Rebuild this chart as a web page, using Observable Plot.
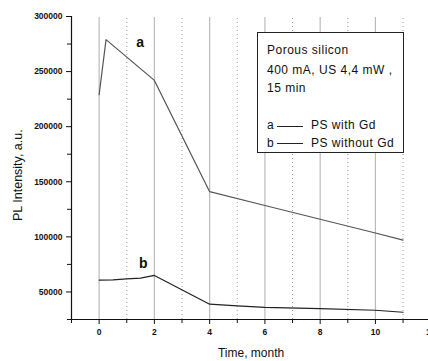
<!DOCTYPE html>
<html>
<head>
<meta charset="utf-8">
<script src="https://cdn.jsdelivr.net/npm/d3@7"></script>
<script src="https://cdn.jsdelivr.net/npm/@observablehq/plot@0.6"></script>
<style>
  body { margin: 0; background: white; }
  #wrap { position: relative; width: 428px; height: 361px; overflow: hidden; font-family: "Liberation Sans", Arial, sans-serif; }
  #legend { position: absolute; left: 257px; top: 32px; width: 145px; height: 119px; border: 1.5px solid #222; background: white; color: #111; font-size: 12px; letter-spacing: 0.5px; }
  #legend div { position: absolute; white-space: nowrap; }
  #legend .sw { position: absolute; height: 0; border-top: 1px solid #222; }
</style>
</head>
<body>
<div id="wrap"></div>
<script>
// Series a: PS with Gd
const monthsA = [0, 0.25, 2, 4, 6, 8, 10, 11];
const intensityA = [229000, 279000, 242000, 141000, 128500, 116000, 103500, 97000];
// Series b: PS without Gd
const monthsB = [0, 0.5, 1, 1.5, 2, 4, 5, 6, 8, 10, 11];
const intensityB = [60800, 61000, 61800, 62500, 65000, 38900, 37300, 36000, 34900, 33400, 31600];

const xMajor = [0, 2, 4, 6, 8, 10, 12];
const xMinor = [-1, 1, 3, 5, 7, 9, 11];
const yMajor = [50000, 100000, 150000, 200000, 250000, 300000];
const yMinor = [25000, 75000, 125000, 175000, 225000, 275000];
const gridSolid = [0, 2, 4, 6, 8, 10, 12];
const gridDotted = [1, 3, 5, 7, 9, 11];

const dataA = monthsA.map((t, i) => ({t, v: intensityA[i]}));
const dataB = monthsB.map((t, i) => ({t, v: intensityB[i]}));

const chart = Plot.plot({
  width: 428,
  height: 361,
  marginLeft: 71,
  marginTop: 16,
  marginBottom: 42,
  marginRight: 0,
  x: {domain: [-1, 12.5], range: [71, 444]},
  y: {domain: [25000, 300000]},
  style: {fontFamily: "'Liberation Sans', Arial, sans-serif", background: "white", overflow: "hidden", color: "#111"},
  marks: [
    Plot.ruleX(gridSolid, {y1: 25000, y2: 299000, stroke: "#bbb", strokeWidth: 1.2}),
    Plot.ruleX(gridDotted, {y1: 25000, y2: 299000, stroke: "#999", strokeDasharray: "1,3"}),
    Plot.ruleX([-1], {y1: 25000, y2: 300000, stroke: "#111", strokeWidth: 1.2}),
    Plot.ruleY([25000], {stroke: "#111", strokeWidth: 1.2}),
    Plot.axisY({ticks: yMajor, tickSize: 5, tickPadding: 4, fontSize: 8.5, fontWeight: "bold", tickFormat: d => String(d), label: null}),
    Plot.axisY({ticks: yMinor, tickSize: 4, tickFormat: () => "", label: null}),
    Plot.axisX({ticks: xMajor, tickSize: 5, tickPadding: 4, fontSize: 8.5, fontWeight: "bold", tickFormat: d => String(d), label: null}),
    Plot.axisX({ticks: xMinor, tickSize: 4, tickFormat: () => "", label: null}),
    Plot.line(dataA, {x: "t", y: "v", stroke: "#555", strokeWidth: 1.2}),
    Plot.line(dataB, {x: "t", y: "v", stroke: "#222", strokeWidth: 1.2}),
    Plot.text(["a"], {x: 1.48, y: 276500, text: d => d, fontSize: 14, fontWeight: "bold", fill: "#111"}),
    Plot.text(["b"], {x: 1.6, y: 76000, text: d => d, fontSize: 14, fontWeight: "bold", fill: "#111"}),
    Plot.text(["PL Intensity, a.u."], {x: -1, y: 156000, text: d => d, rotate: -90, dx: -54, fontSize: 12.5, fill: "#111"}),
    Plot.text(["Time, month"], {x: 5.5, y: 25000, text: d => d, dy: 34, fontSize: 12, fill: "#111"})
  ]
});
const wrap = document.getElementById("wrap");
wrap.appendChild(chart);
const legend = document.createElement("div");
legend.id = "legend";
legend.innerHTML = `
  <div style="left:9px; top:10px;">Porous silicon</div>
  <div style="left:9px; top:30px;">400 mA, US 4,4 mW ,</div>
  <div style="left:9px; top:48px;">15 min</div>
  <div style="left:9px; top:85px;">a</div>
  <span class="sw" style="left:19px; width:26px; top:93px;"></span>
  <div style="left:53px; top:85px;">PS with Gd</div>
  <div style="left:9px; top:103px;">b</div>
  <span class="sw" style="left:19px; width:26px; top:110px;"></span>
  <div style="left:53px; top:103px;">PS without Gd</div>`;
wrap.appendChild(legend);
</script>
</body>
</html>
